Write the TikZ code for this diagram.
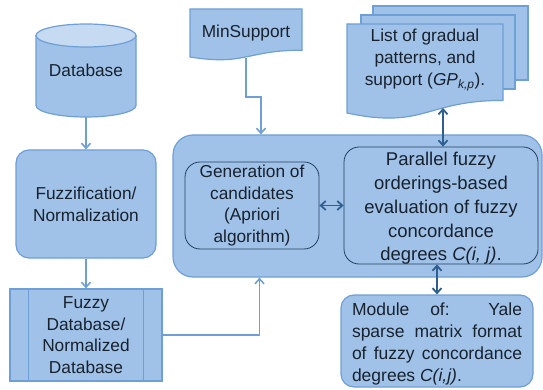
\documentclass[tikz,border=0pt]{standalone}
\usepackage{fontspec}
\setmainfont{Liberation Sans}
\usetikzlibrary{arrows.meta}

\definecolor{boxfill}{HTML}{A1C2E8}
\definecolor{toplid}{HTML}{C6DAF2}
\definecolor{edge}{HTML}{6E9FD7}
\definecolor{darkarrow}{HTML}{2D5F91}
\definecolor{inneredge}{HTML}{21405F}
\definecolor{ink}{HTML}{18222E}

\tikzset{
  txt/.style={font=\fontsize{17.3}{21.7}\selectfont, text=ink, align=center, inner sep=0pt},
  shapebox/.style={fill=boxfill, draw=edge, line width=1.2pt},
  innerbox/.style={fill=boxfill, draw=inneredge, line width=0.8pt, rounded corners=15pt},
  flow/.style={draw=edge, line width=1.6pt, -{Straight Barb[length=5pt,width=9pt]}},
  twoway/.style={draw=darkarrow, line width=1.8pt, {Straight Barb[length=5pt,width=9pt]}-{Straight Barb[length=5pt,width=9pt]}},
}

\begin{document}
\begin{tikzpicture}[x=1pt,y=-1pt]
\useasboundingbox (0,0) rectangle (543,390);

% --- database cylinder ---
\path[shapebox] (36,35.5) -- (36,105.5)
  .. controls (36,111.85) and (58.4,117) .. (86,117)
  .. controls (113.6,117) and (136,111.85) .. (136,105.5)
  -- (136,35.5) -- cycle;
\path[shapebox, fill=toplid] (86,35.5) ellipse [x radius=50, y radius=11.5];
\node[txt, minimum width=100pt, minimum height=93pt] (db) at (86,70.5) {Database};

% --- fuzzification step ---
\node[txt, shapebox, rounded corners=13pt, minimum width=140pt, minimum height=108pt] (fuzz) at (86,204)
  {Fuzzification/\\Normalization};

% --- fuzzy database (predefined process) ---
\node[txt, shapebox, minimum width=152pt, minimum height=92pt] (fdb) at (86,335)
  {Fuzzy\\Database/\\Normalized\\Database};
\draw[edge, line width=1.2pt] ([xshift=19pt]fdb.north west) -- ([xshift=19pt]fdb.south west);
\draw[edge, line width=1.2pt] ([xshift=-19pt]fdb.north east) -- ([xshift=-19pt]fdb.south east);

% --- MinSupport document ---
\path[shapebox] (190,9) -- (302,9) -- (302,50.2)
  .. controls (246,50.2) and (246,65.9) .. (190,57) -- cycle;
\node[txt, minimum width=112pt, minimum height=49pt] (ms) at (246,33.5) {MinSupport};

% --- stacked documents: gradual patterns ---
\path[shapebox] (373,6) rectangle (528,80);
\path[shapebox] (361,15) rectangle (515,89);
\path[shapebox] (347,24) -- (503,24) -- (503,100.4)
  .. controls (425,100.4) and (425,129.5) .. (347,113) -- cycle;
\node[txt] (list) at (425,60)
  {List of gradual\\patterns, and\\support (\textit{GP}\textsubscript{\itshape k,p}).};
\coordinate (listbase) at (443,108);

% --- main processing block ---
\node[shapebox, rounded corners=20pt, minimum width=369pt, minimum height=142pt] (big) at (357.5,206) {};
\node[txt, innerbox, minimum width=134pt, minimum height=87pt] (gen) at (252,205.5)
  {Generation of\\candidates\\(Apriori\\algorithm)};
\node[innerbox, minimum width=194pt, minimum height=117pt] (par) at (441,205.5) {};
\node[txt, font=\fontsize{18.5}{23.8}\selectfont] (partxt) at ([yshift=-3pt]par.center)
  {Parallel fuzzy\\orderings-based\\evaluation of fuzzy\\concordance\\degrees \textit{C(i, j)}.};

% --- sparse matrix module ---
\node[shapebox, rounded corners=13pt, minimum width=192pt, minimum height=92pt] (mod) at (437,341) {};
\node[txt, font=\fontsize{17.5}{22}\selectfont] (modtxt) at ([yshift=-2.5pt]mod.center)
  {\makebox[170pt][s]{Module of: Yale}\\
   \makebox[170pt][s]{sparse matrix format}\\
   \makebox[170pt][s]{of fuzzy concordance}\\
   \makebox[170pt][l]{degrees \textit{C(i,j)}.}};

% --- connectors ---
\draw[flow] (db.south) -- (fuzz.north);
\draw[flow] (fuzz.south) -- (fdb.north);
\draw[flow] (fdb.east) -| ([xshift=-98pt]big.south);
\draw[flow] (ms.south) -- ++(0,39) -| ([xshift=-96.5pt]big.north);
\draw[twoway] (gen.east) -- (par.west);
\draw[twoway] (listbase) -- (listbase |- par.north);
\draw[twoway] (mod.north |- par.south) -- (mod.north);
\end{tikzpicture}
\end{document}
